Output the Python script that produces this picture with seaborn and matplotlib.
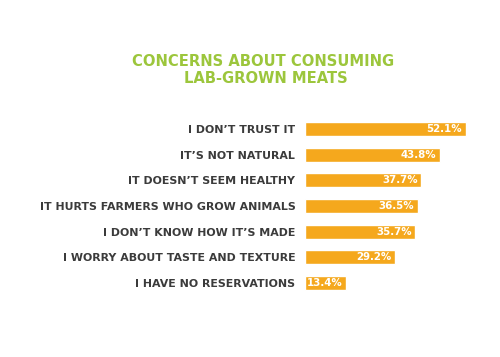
import matplotlib
matplotlib.use('Agg')
import matplotlib.pyplot as plt
import seaborn as sns
import pandas as pd

concerns = [
    "I DON\u2019T TRUST IT",
    "IT\u2019S NOT NATURAL",
    "IT DOESN\u2019T SEEM HEALTHY",
    "IT HURTS FARMERS WHO GROW ANIMALS",
    "I DON\u2019T KNOW HOW IT\u2019S MADE",
    "I WORRY ABOUT TASTE AND TEXTURE",
    "I HAVE NO RESERVATIONS",
]
percent = [52.1, 43.8, 37.7, 36.5, 35.7, 29.2, 13.4]

df = pd.DataFrame({'Concern': concerns, 'Percent': percent})

sns.set_style('white')
plt.rcParams['font.family'] = ['DejaVu Sans']

bar_color = '#F5A81D'
title_color = '#9CC63C'
text_color = '#3B3B3B'

fig = plt.figure(figsize=(5, 3.57), dpi=100)
ax = fig.add_axes([0.61, 0.171, 0.37, 0.504])

sns.barplot(data=df, x='Percent', y='Concern', orient='h', color=bar_color,
            saturation=1, width=0.55, ax=ax)

for i, v in enumerate(df['Percent']):
    ax.annotate(f'{v}%', xy=(v, i), xytext=(-2.5, 0), textcoords='offset points',
                ha='right', va='center', color='white', fontsize=7.4,
                fontweight='bold')

ax.set_xlim(0, 60)
ax.set_ylim(6.5, -0.5)
ax.set_xlabel('')
ax.set_ylabel('')
ax.set_xticks([])
ax.tick_params(axis='y', length=0, pad=7)
for lbl in ax.get_yticklabels():
    lbl.set_fontsize(7.9)
    lbl.set_fontweight('bold')
    lbl.set_color(text_color)
sns.despine(ax=ax, left=True, bottom=True)

fig.text(0.527, 0.827, 'CONCERNS ABOUT CONSUMING', ha='center', va='center',
         color=title_color, fontsize=10.6, fontweight='bold')
fig.text(0.531, 0.779, 'LAB-GROWN MEATS', ha='center', va='center',
         color=title_color, fontsize=10.6, fontweight='bold')

fig.savefig('out.png', dpi=100)
